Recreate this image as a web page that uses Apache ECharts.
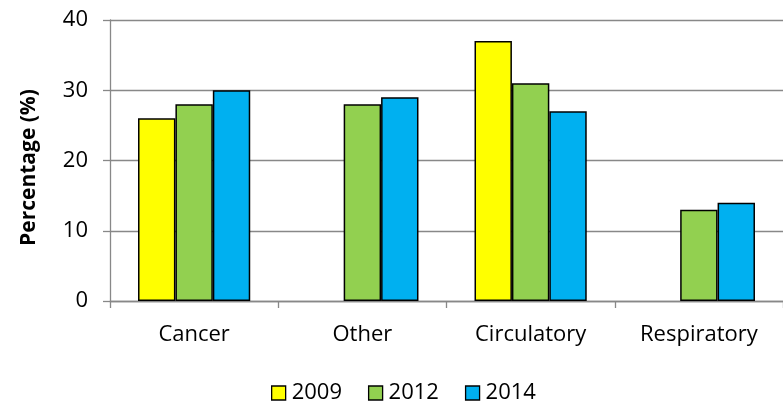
<!DOCTYPE html>
<html><head><meta charset="utf-8">
<script src="https://cdn.jsdelivr.net/npm/echarts@6/dist/echarts.min.js"></script>
<style>html,body{margin:0;padding:0;background:#fff}#c{width:783px;height:408px}</style>
</head><body><div id="c"></div>
<script>
const categories = ['Cancer', 'Other', 'Circulatory', 'Respiratory'];
const years = ['2009', '2012', '2014'];
const v2009 = [26, null, 37, null];
const v2012 = [28, 28, 31, 13];
const v2014 = [30, 29, 27, 14];
const yTicks = [0, 10, 20, 30, 40];
const colors = ['#FFFF00', '#92D050', '#00B0F0'];

const font = '"Open Sans", sans-serif';
const chart = echarts.init(document.getElementById('c'), null, {renderer: 'canvas'});
const seriesData = [v2009, v2012, v2014];
chart.setOption({
  animation: false,
  textStyle: {fontFamily: font},
  grid: {left: 110, right: 0, top: 20, bottom: 107, containLabel: false},
  legend: {
    top: 382, left: 271, padding: 0, itemWidth: 14, itemHeight: 14, itemGap: 26,
    textStyle: {fontSize: 22, color: '#000', fontFamily: font, padding: [0,0,0,1]},
    data: years.map((y, i) => ({name: y, icon: 'rect', itemStyle: {color: colors[i], borderColor: '#000', borderWidth: 1.3}}))
  },
  xAxis: {
    type: 'category', data: categories,
    axisLine: {lineStyle: {color: '#888', width: 1.3}},
    axisTick: {show: true, length: 7, lineStyle: {color: '#888', width: 1.3}},
    axisLabel: {fontSize: 22, color: '#000', margin: 23, fontFamily: font}
  },
  yAxis: {
    type: 'value', min: yTicks[0], max: yTicks[yTicks.length-1], interval: 10,
    name: 'Percentage (%)', nameLocation: 'middle', nameGap: 70,
    nameTextStyle: {fontSize: 21, fontWeight: 'bold', color: '#000', fontFamily: font, padding: [0,14,0,0]},
    axisLine: {show: true, lineStyle: {color: '#888', width: 1.3}},
    axisTick: {show: true, length: 7, lineStyle: {color: '#888', width: 1.3}},
    axisLabel: {fontSize: 22, color: '#000', margin: 22, fontFamily: font},
    splitLine: {lineStyle: {color: '#888', width: 1.3}}
  },
  series: years.map((y, i) => ({
    name: y, type: 'bar', data: seriesData[i],
    barGap: '0%', barCategoryGap: '33.3%',
    itemStyle: {color: colors[i], borderColor: '#000', borderWidth: 1.5}
  }))
});
</script></body></html>
